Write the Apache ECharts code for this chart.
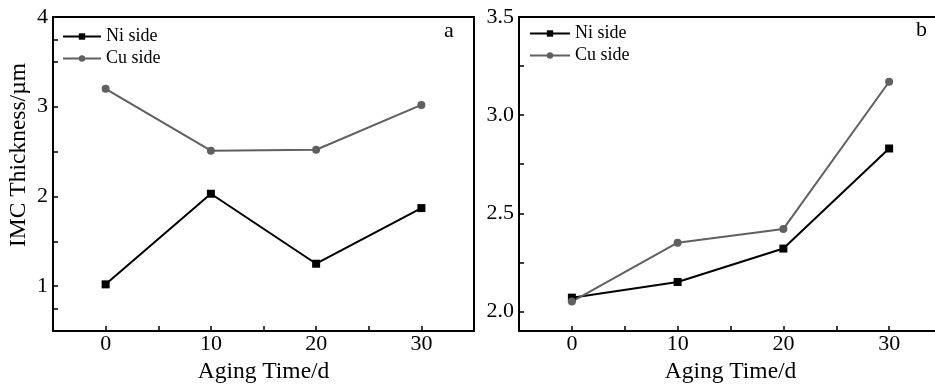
<!DOCTYPE html>
<html>
<head>
<meta charset="utf-8">
<script src="https://cdn.jsdelivr.net/npm/echarts@6/dist/echarts.min.js"></script>
<style>
  html, body { margin: 0; padding: 0; background: #fff; }
  #chart { width: 935px; height: 385px; }
</style>
</head>
<body>
<div id="chart"></div>
<script>
// aging time (days)
const days = [0, 10, 20, 30];

// panel a
const niA = [1.02, 2.03, 1.25, 1.87];
const cuA = [3.20, 2.51, 2.52, 3.02];
// panel b
const niB = [2.07, 2.15, 2.32, 2.83];
const cuB = [2.05, 2.35, 2.42, 3.17];

const xLabels = [0, 10, 20, 30];
const xTicks = [0, 5, 10, 15, 20, 25, 30];
const yLabelsA = [1, 2, 3, 4];
const yTicksA = [0.75, 1, 1.5, 2, 2.5, 3, 3.5, 3.75];
const yLabelsB = [2.0, 2.5, 3.0, 3.5];
const yTicksB = [2.0, 2.25, 2.5, 2.75, 3.0, 3.25];

const FONT = 'Liberation Serif';
const NI_COLOR = '#000';
const CU_COLOR = '#606060';

const chart = echarts.init(document.getElementById('chart'));

const xAxisFor = (gridIndex) => ({
  type: 'value',
  gridIndex,
  min: -5,
  max: 35,
  name: 'Aging Time/d',
  nameLocation: 'middle',
  nameGap: 23,
  nameTextStyle: { fontFamily: FONT, fontSize: 23.5, color: '#000' },
  axisLine: { onZero: false, lineStyle: { color: '#000', width: 2 } },
  axisTick: { inside: true, length: 5, customValues: xTicks, lineStyle: { color: '#000', width: 1.5 } },
  axisLabel: { customValues: xLabels, margin: 2, fontFamily: FONT, fontSize: 22, color: '#000' },
  splitLine: { show: false },
});

const yAxisFor = (gridIndex, min, max, ticks, labels, fmt) => ({
  type: 'value',
  gridIndex,
  min,
  max,
  axisLine: { show: true, onZero: false, lineStyle: { color: '#000', width: 2 } },
  axisTick: { show: true, inside: true, length: 5, customValues: ticks, lineStyle: { color: '#000', width: 1.5 } },
  axisLabel: { customValues: labels, margin: 5, fontFamily: FONT, fontSize: 22, color: '#000', formatter: fmt },
  splitLine: { show: false },
});

const legendFor = (left, top, width) => ({
  orient: 'vertical',
  left,
  top,
  padding: 0,
  itemGap: 3,
  itemWidth: width,
  itemHeight: 8,
  textStyle: { fontFamily: FONT, fontSize: 18, color: '#000', lineHeight: 19 },
});

const lineSeries = (name, data, xi, yi, symbol, color, width) => ({
  name,
  type: 'line',
  xAxisIndex: xi,
  yAxisIndex: yi,
  data: days.map((d, i) => [d, data[i]]),
  symbol,
  symbolSize: 8,
  lineStyle: { color, width },
  itemStyle: { color },
  animation: false,
});

const yA = yAxisFor(0, 0.5, 4, yTicksA, yLabelsA, (v) => String(v));
yA.name = 'IMC Thickness/\u00b5m';
yA.nameLocation = 'middle';
yA.nameGap = 22;
yA.nameTextStyle = { fontFamily: FONT, fontSize: 23.5, color: '#000', padding: [0, 0, 0, 38] };

const gridBase = { top: 17, height: 314, show: true, borderColor: '#000', borderWidth: 2,
  backgroundColor: 'transparent', containLabel: false, outerBoundsMode: 'none' };

chart.setOption({
  backgroundColor: '#fff',
  animation: false,
  grid: [
    Object.assign({ left: 53, width: 421 }, gridBase),
    Object.assign({ left: 519, width: 423 }, gridBase),
  ],
  xAxis: [xAxisFor(0), xAxisFor(1)],
  yAxis: [yA, yAxisFor(1, 1.9, 3.5, yTicksB, yLabelsB, (v) => v.toFixed(1))],
  legend: [
    Object.assign(legendFor(62, 27, 38), { data: ['Ni side', 'Cu side'] }),
    Object.assign(legendFor(529, 24, 40), { data: ['Ni side ', 'Cu side '] }),
  ],
  graphic: [
    { type: 'text', left: 444, top: 20, style: { text: 'a', font: '22px "Liberation Serif"', fill: '#000' } },
    { type: 'text', left: 916, top: 19, style: { text: 'b', font: '22px "Liberation Serif"', fill: '#000' } },
  ],
  series: [
    lineSeries('Ni side', niA, 0, 0, 'rect', NI_COLOR, 2),
    lineSeries('Cu side', cuA, 0, 0, 'circle', CU_COLOR, 2),
    lineSeries('Ni side ', niB, 1, 1, 'rect', NI_COLOR, 2),
    lineSeries('Cu side ', cuB, 1, 1, 'circle', CU_COLOR, 2),
  ],
});
</script>
</body>
</html>
